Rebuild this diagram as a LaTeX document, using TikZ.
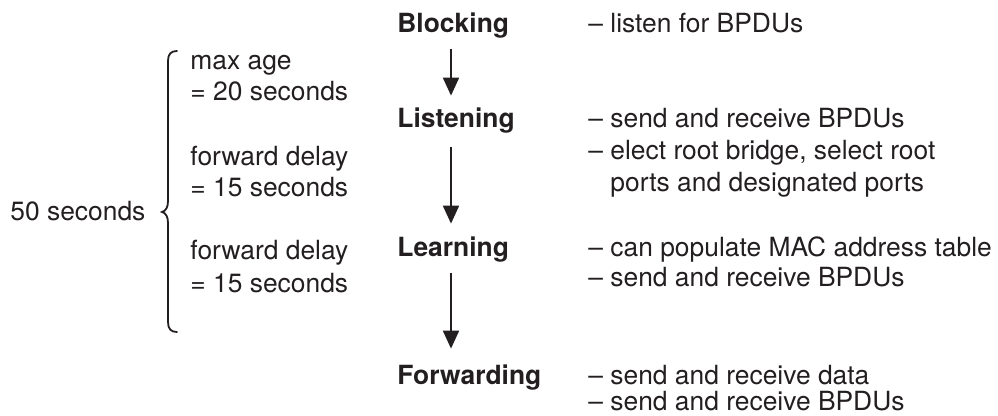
\documentclass[tikz,border=0pt]{standalone}
\usepackage{fontspec}
\setmainfont{TeX Gyre Heros}
\usetikzlibrary{arrows.meta}
\definecolor{ink}{HTML}{231F20}
\begin{document}
\begin{tikzpicture}[x=0.5pt,y=-0.5pt,
  txt/.style={anchor=base west,inner sep=0pt,text=ink,font=\fontsize{13.2}{15}\selectfont},
  state/.style={txt,font=\fontsize{13.2}{15}\selectfont\bfseries,text height=9.5pt,text depth=2.8pt},
  arr/.style={draw=ink,line width=1pt,-{Triangle[length=9pt,width=8pt]}},
  brace/.style={draw=ink,line width=0.9pt,line cap=round}]
\useasboundingbox (0,0) rectangle (998,416);
% states
\node[state] (blk) at (397,33) {Blocking};
\node[state] (lst) at (397,128) {Listening};
\node[state] (lrn) at (397,257) {Learning};
\node[state] (fwd) at (397,385) {Forwarding};
\coordinate (ax) at (451,0);
\draw[arr,shorten <=5pt,shorten >=6.5pt] (blk.south -| ax) -- (lst.north -| ax);
\draw[arr,shorten <=6.5pt,shorten >=7pt] (lst.south -| ax) -- (lrn.north -| ax);
\draw[arr,shorten <=5pt,shorten >=8.5pt] (lrn.south -| ax) -- (fwd.north -| ax);
% descriptions
\node[txt] (d1) at (588,33) {– listen for BPDUs};
\node[txt] (d2) at (588,128) {– send and receive BPDUs};
\node[txt] (d3) at (588,160) {– elect root bridge, select root};
\node[txt] (d4) at (610,192) {ports and designated ports};
\node[txt] (d5) at (588,257) {– can populate MAC address table};
\node[txt] (d6) at (588,287) {– send and receive BPDUs};
\node[txt] (d7) at (588,385) {– send and receive data};
\node[txt,text depth=0pt] (d8) at (588,411) {– send and receive BPDUs};
% timers
\node[txt] (t1) at (190,70) {max age};
\node[txt] (t2) at (190,101) {= 20 seconds};
\node[txt] (t3) at (190,166) {forward delay};
\node[txt] (t4) at (190,197) {= 15 seconds};
\node[txt] (t5) at (190,260) {forward delay};
\node[txt] (t6) at (190,293) {= 15 seconds};
\node[txt] (tot) at (10,221) {50 seconds};
% brace
\draw[brace] (177,51) .. controls (171,51) and (168,54) .. (168,61)
  -- (168,201) .. controls (168,207) and (166,211) .. (162,212)
  .. controls (166,213) and (168,217) .. (168,223)
  -- (168,322) .. controls (168,329) and (171,332) .. (177,332);
\end{tikzpicture}
\end{document}
